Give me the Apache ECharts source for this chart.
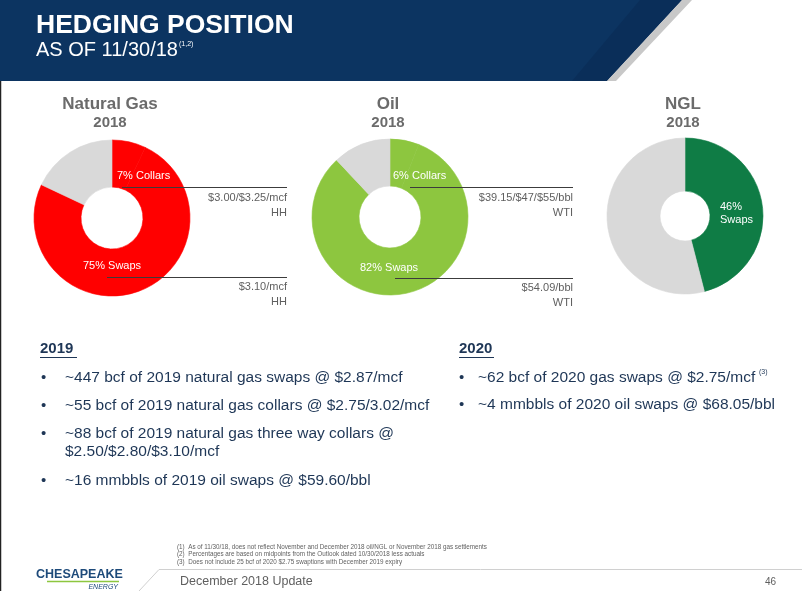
<!DOCTYPE html>
<html>
<head>
<meta charset="utf-8">
<script src="https://cdn.jsdelivr.net/npm/echarts@6/dist/echarts.min.js"></script>
<style>
html,body{margin:0;padding:0;background:#fff;}
#chart{width:802px;height:591px;}
</style>
</head>
<body>
<div id="chart"></div>
<script>
// ---- data ----
const products = ['Natural Gas', 'Oil', 'NGL'];
const years = ['2018', '2018', '2018'];
const collarsPct = [7, 6, 0];
const swapsPct = [75, 82, 46];
const unhedgedPct = [18, 12, 54];
const collarPrice = [['$3.00/$3.25/mcf', 'HH'], ['$39.15/$47/$55/bbl', 'WTI'], null];
const swapPrice = [['$3.10/mcf', 'HH'], ['$54.09/bbl', 'WTI'], null];
const bullets2019 = [
  ['~447 bcf of 2019 natural gas swaps @ $2.87/mcf'],
  ['~55 bcf of 2019 natural gas collars @ $2.75/3.02/mcf'],
  ['~88 bcf of 2019 natural gas three way collars @', '$2.50/$2.80/$3.10/mcf'],
  ['~16 mmbbls of 2019 oil swaps @ $59.60/bbl']
];
const bullets2020 = [
  ['~62 bcf of 2020 gas swaps @ $2.75/mcf'],
  ['~4 mmbbls of 2020 oil swaps @ $68.05/bbl']
];
const footnotes = [
  '(1)  As of 11/30/18, does not reflect November and December 2018 oil/NGL or November 2018 gas settlements',
  '(2)  Percentages are based on midpoints from the Outlook dated 10/30/2018 less actuals',
  '(3)  Does not include 25 bcf of 2020 $2.75 swaptions with December 2019 expiry'
];

// ---- layout / style ----
const FONT = '"Liberation Sans", Arial, sans-serif';
const hedgeColors = ['#ff0000', '#8dc63f', '#0f7c45'];
const greyColor = '#d9d9d9';
const centers = [[112, 218], [390, 217], [685, 216]];
const radii = [[31, 78], [31, 78], [25, 78]];
const navy = '#0c3461';
const bodyColor = '#1e3656';
const grey = '#5f5f5f';

const series = products.map((p, i) => ({
  type: 'pie',
  z: 2,
  center: centers[i],
  radius: radii[i],
  startAngle: 90,
  clockwise: true,
  silent: true,
  label: { show: false },
  labelLine: { show: false },
  emphasis: { disabled: true },
  data: [
    { name: 'Collars', value: collarsPct[i], itemStyle: { color: hedgeColors[i], borderColor: hedgeColors[i], borderWidth: 0.6 } },
    { name: 'Swaps', value: swapsPct[i], itemStyle: { color: hedgeColors[i], borderColor: hedgeColors[i], borderWidth: 0.6 } },
    { name: 'Unhedged', value: unhedgedPct[i], itemStyle: { color: greyColor, borderColor: greyColor, borderWidth: 0.6 } }
  ]
}));

const g = [];
// header band
g.push({ type: 'polygon', shape: { points: [[0, 0], [682, 0], [607, 81], [0, 81]] }, style: { fill: navy } });
g.push({ type: 'polygon', shape: { points: [[640, 0], [682, 0], [607, 81], [572, 81]] }, style: { fill: '#0a2e59' } });
g.push({ type: 'polygon', shape: { points: [[682, 0], [692, 0], [616, 81], [607, 81]] }, style: { fill: '#c8c8c8' } });
g.push({ type: 'text', left: 36, top: 12, style: { text: 'HEDGING POSITION', fill: '#fff', font: 'bold 26.5px ' + FONT } });
g.push({ type: 'text', left: 36, top: 40, style: { text: 'AS OF 11/30/18', fill: '#fff', font: '20px ' + FONT } });
g.push({ type: 'text', left: 179, top: 41, style: { text: '(1,2)', fill: '#fff', font: '7px ' + FONT } });
// left border
g.push({ type: 'line', shape: { x1: 0.5, y1: 81, x2: 0.5, y2: 591 }, style: { stroke: '#222', lineWidth: 1.5 } });

// donut titles
products.forEach((p, i) => {
  g.push({ type: 'text', x: centers[i][0] - 2, y: 104, style: { text: p, fill: '#6b6b6b', font: 'bold 17px ' + FONT, textAlign: 'center', textVerticalAlign: 'middle' } });
  g.push({ type: 'text', x: centers[i][0] - 2, y: 123, style: { text: years[i], fill: '#6b6b6b', font: 'bold 15px ' + FONT, textAlign: 'center', textVerticalAlign: 'middle' } });
});

// in-donut labels
const inLabels = [
  [{ t: collarsPct[0] + '% Collars', x: 117, y: 176 }, { t: swapsPct[0] + '% Swaps', x: 83, y: 266 }],
  [{ t: collarsPct[1] + '% Collars', x: 393, y: 176 }, { t: swapsPct[1] + '% Swaps', x: 360, y: 268 }],
  [{ t: swapsPct[2] + '%', x: 720, y: 207 }, { t: 'Swaps', x: 720, y: 220 }]
];
inLabels.forEach(arr => arr.forEach(l => {
  g.push({ type: 'text', x: l.x, y: l.y, style: { text: l.t, fill: '#fff', font: '11px ' + FONT, textVerticalAlign: 'middle' } });
}));

// leader lines and price labels
const leaders = [
  { x1: 122, y: 187, x2: 287, x1b: 107, yb: 277, tx: 287 },
  { x1: 410, y: 187, x2: 573, x1b: 395, yb: 278, tx: 573 }
];
leaders.forEach((L, i) => {
  g.push({ type: 'line', shape: { x1: L.x1, y1: L.y + 0.5, x2: L.x2, y2: L.y + 0.5 }, style: { stroke: '#3c3c3c', lineWidth: 1 } });
  g.push({ type: 'line', shape: { x1: L.x1b, y1: L.yb + 0.5, x2: L.x2, y2: L.yb + 0.5 }, style: { stroke: '#3c3c3c', lineWidth: 1 } });
  g.push({ type: 'text', x: L.tx, y: L.y + 11, style: { text: collarPrice[i][0], fill: grey, font: '11px ' + FONT, textAlign: 'right', textVerticalAlign: 'middle' } });
  g.push({ type: 'text', x: L.tx, y: L.y + 26, style: { text: collarPrice[i][1], fill: grey, font: '11px ' + FONT, textAlign: 'right', textVerticalAlign: 'middle' } });
  g.push({ type: 'text', x: L.tx, y: L.yb + 10, style: { text: swapPrice[i][0], fill: grey, font: '11px ' + FONT, textAlign: 'right', textVerticalAlign: 'middle' } });
  g.push({ type: 'text', x: L.tx, y: L.yb + 25, style: { text: swapPrice[i][1], fill: grey, font: '11px ' + FONT, textAlign: 'right', textVerticalAlign: 'middle' } });
});

// body text
function heading(txt, x, y, w) {
  g.push({ type: 'text', x: x, y: y, style: { text: txt, fill: bodyColor, font: 'bold 15px ' + FONT, textVerticalAlign: 'middle' } });
  g.push({ type: 'line', shape: { x1: x, y1: y + 8.5, x2: x + w, y2: y + 8.5 }, style: { stroke: bodyColor, lineWidth: 1.2 } });
}
heading('2019', 40, 349, 37);
heading('2020', 459, 349, 35);
function bulletList(list, bx, tx, ys) {
  list.forEach((lines, i) => {
    g.push({ type: 'text', x: bx, y: ys[i], style: { text: '•', fill: bodyColor, font: '15px ' + FONT, textVerticalAlign: 'middle' } });
    lines.forEach((ln, j) => {
      g.push({ type: 'text', x: tx, y: ys[i] + j * 18, style: { text: ln, fill: bodyColor, font: '15.5px ' + FONT, textVerticalAlign: 'middle' } });
    });
  });
}
bulletList(bullets2019, 41, 65, [378, 406, 434, 481]);
bulletList(bullets2020, 459, 478, [378, 405]);
g.push({ type: 'text', x: 759, y: 372, style: { text: '(3)', fill: bodyColor, font: '7px ' + FONT, textVerticalAlign: 'middle' } });

// footnotes
footnotes.forEach((f, i) => {
  g.push({ type: 'text', x: 177, y: 547 + i * 7.5, style: { text: f, fill: grey, font: '6.3px ' + FONT, textVerticalAlign: 'middle' } });
});
// footer line
g.push({ type: 'polyline', shape: { points: [[139, 591], [159, 569.5], [802, 569.5]] }, style: { stroke: '#d0d0d0', lineWidth: 1, fill: null } });
g.push({ type: 'text', x: 180, y: 582, style: { text: 'December 2018 Update', fill: grey, font: '12.5px ' + FONT, textVerticalAlign: 'middle' } });
g.push({ type: 'text', x: 765, y: 582, style: { text: '46', fill: grey, font: '10px ' + FONT, textVerticalAlign: 'middle' } });
// logo
g.push({ type: 'text', x: 36, y: 575, style: { text: 'CHESAPEAKE', fill: '#1d4a7a', font: 'bold 12.5px ' + FONT, textVerticalAlign: 'middle' } });
g.push({ type: 'line', shape: { x1: 47, y1: 581.5, x2: 119, y2: 581.5 }, style: { stroke: '#8dc63f', lineWidth: 1.5 } });
g.push({ type: 'text', x: 118, y: 587, style: { text: 'ENERGY', fill: '#1d4a7a', font: 'italic 7px ' + FONT, textAlign: 'right', textVerticalAlign: 'middle' } });

g.forEach(e => { e.z = 100; e.zlevel = 1; e.silent = true; });

const chart = echarts.init(document.getElementById('chart'), null, { renderer: 'canvas' });
chart.setOption({
  animation: false,
  backgroundColor: '#fff',
  series: series,
  graphic: { elements: g }
});
</script>
</body>
</html>
